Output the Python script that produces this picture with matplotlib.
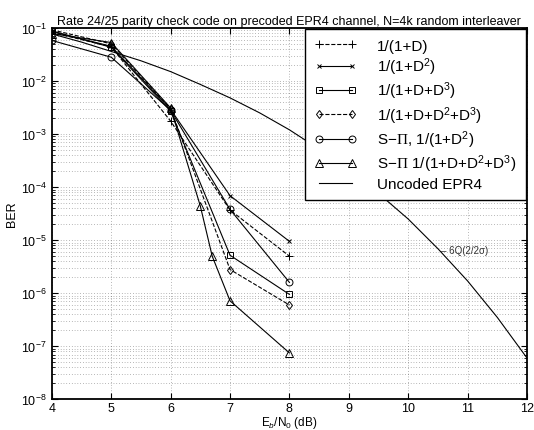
"""
BER curves for rate 24/25 parity check code on precoded EPR4 channel.
"""

import matplotlib
matplotlib.use("Agg")
import matplotlib.pyplot as plt
from matplotlib.ticker import LogLocator, FixedLocator, NullFormatter

plt.rcParams["font.family"] = ["Liberation Sans", "DejaVu Sans"]
plt.rcParams["mathtext.fontset"] = "custom"
plt.rcParams["mathtext.rm"] = "Liberation Sans"
plt.rcParams["mathtext.it"] = "Liberation Sans:italic"
plt.rcParams["mathtext.sf"] = "Liberation Serif"

# Data
ebno = [4, 5, 6, 7, 8]
ber_1d = [8.2e-2, 4.4e-2, 1.75e-3, 3.7e-5, 5.0e-6]
ber_1d2 = [8.5e-2, 4.5e-2, 2.9e-3, 6.9e-5, 9.5e-6]
ber_1dd3 = [8.8e-2, 4.3e-2, 2.7e-3, 5.2e-6, 9.5e-7]
ber_1dd2d3 = [9.2e-2, 5.0e-2, 3.0e-3, 2.8e-6, 6.0e-7]
ber_sp_d2 = [5.8e-2, 2.8e-2, 2.8e-3, 3.8e-5, 1.6e-6]

ebno_sp = [4, 5, 6, 6.5, 6.7, 7, 8]
ber_sp_d123 = [7.8e-2, 5.3e-2, 3.1e-3, 4.4e-5, 5.0e-6, 7.2e-7, 7.5e-8]

ebno_unc = [4, 4.5, 5, 5.5, 6, 6.5, 7, 7.5, 8, 8.5, 9, 9.5, 10, 10.5, 11, 11.5, 12]
ber_unc = [7.7e-2, 5.4e-2, 3.6e-2, 2.4e-2, 1.5e-2, 8.6e-3, 4.8e-3, 2.5e-3,
           1.2e-3, 5.2e-4, 2.1e-4, 7.6e-5, 2.5e-5, 6.9e-6, 1.7e-6, 3.5e-7, 6.0e-8]

# ============================================================================
fig = plt.figure(figsize=(5.34, 4.31), dpi=100)
ax = fig.add_axes([0.097, 0.071, 0.89, 0.862])

mk = dict(color="black", lw=0.8, markerfacecolor="none", markeredgecolor="black",
          markeredgewidth=0.7)

ax.plot(ebno, ber_1d, "+--", ms=5.5, label="1/(1+D)", **mk)
ax.plot(ebno, ber_1d2, "x-", ms=3.5, label="1/(1+D$^2$)", **mk)
ax.plot(ebno, ber_1dd3, "s-", ms=4, label="1/(1+D+D$^3$)", **mk)
ax.plot(ebno, ber_1dd2d3, "d--", ms=4.5, label="1/(1+D+D$^2$+D$^3$)", **mk)
ax.plot(ebno, ber_sp_d2, "o-", ms=5, label="S$-\\mathsf{\\Pi}$, 1/(1+D$^2$)", **mk)
ax.plot(ebno_sp, ber_sp_d123, "^-", ms=5.5, label="S$-\\mathsf{\\Pi}$ 1/(1+D+D$^2$+D$^3$)", **mk)
ax.plot(ebno_unc, ber_unc, "-", color="black", lw=0.8, label="Uncoded EPR4")

ax.text(10.55, 6.6e-6, "\u2013 6Q(2/2\u03c3)", fontsize=7, color="#333333",
        va="center", ha="left")

ax.set_yscale("log")
ax.set_xlim(4, 12)
ax.set_ylim(1e-8, 1e-1)
ax.xaxis.set_major_locator(FixedLocator(range(4, 13)))
ax.yaxis.set_major_locator(LogLocator(base=10, numticks=20))
ax.yaxis.set_minor_locator(LogLocator(base=10, subs=range(2, 10), numticks=20))
ax.yaxis.set_minor_formatter(NullFormatter())

ax.grid(which="major", linestyle=(0, (1, 3)), color="black", lw=0.5, alpha=0.55)
ax.grid(which="minor", axis="y", linestyle=(0, (1, 3)), color="black", lw=0.5, alpha=0.55)

ax.tick_params(which="both", direction="in", top=True, right=True, labelsize=9)
ax.tick_params(axis="x", pad=2)
ax.tick_params(which="major", length=4)
ax.tick_params(which="minor", length=2)
for s in ax.spines.values():
    s.set_linewidth(1.3)

ax.set_xlabel("E$_b$/N$_0$ (dB)", fontsize=8.5, labelpad=0)
ax.set_ylabel("BER", fontsize=9, labelpad=2)
ax.set_title("Rate 24/25 parity check code on precoded EPR4 channel, N=4k random interleaver",
             fontsize=9, pad=3)

leg = ax.legend(loc="upper right", fontsize=11, numpoints=2, handlelength=2.8,
                fancybox=False, framealpha=1, edgecolor="black", borderaxespad=0.1,
                labelspacing=0.18, handletextpad=1.3, borderpad=0.6)
leg.get_frame().set_linewidth(1.0)

plt.savefig("out.png", dpi=100)
plt.close()
